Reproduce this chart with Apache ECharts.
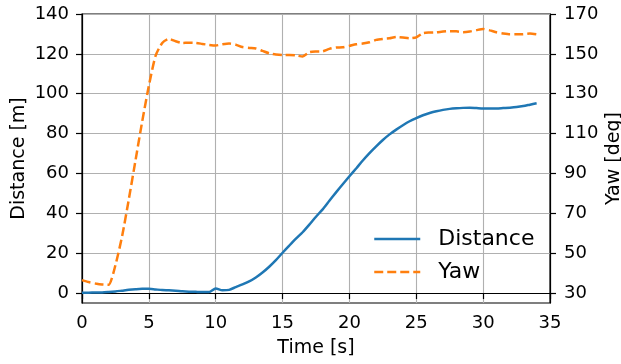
<!DOCTYPE html>
<html>
<head>
<meta charset="utf-8">
<script src="https://cdn.jsdelivr.net/npm/echarts@6/dist/echarts.min.js"></script>
<style>
  html, body { margin: 0; padding: 0; background: #fff; }
  #chart { width: 621px; height: 364px; }
</style>
</head>
<body>
<div id="chart"></div>
<script>
// time axis [s], sampled every 0.5 s
const time = [
  0, 0.5, 1, 1.5, 2, 2.5, 3, 3.5, 4, 4.5, 5, 5.5, 6, 6.5, 7, 7.5, 8, 8.5, 9, 9.5,
  10, 10.5, 11, 11.5, 12, 12.5, 13, 13.5, 14, 14.5, 15, 15.5, 16, 16.5, 17, 17.5,
  18, 18.5, 19, 19.5, 20, 20.5, 21, 21.5, 22, 22.5, 23, 23.5, 24, 24.5, 25, 25.5,
  26, 26.5, 27, 27.5, 28, 28.5, 29, 29.5, 30, 30.5, 31, 31.5, 32, 32.5, 33, 33.5, 34
];

// distance [m]
const distance = [
  0.2, 0.2, 0.3, 0.3, 0.5, 0.8, 1.2, 1.6, 1.9, 2.1, 2.1, 1.8, 1.5, 1.4, 1.2, 0.9, 0.7, 0.6, 0.5, 0.5,
  2.3, 1.4, 1.6, 3.0, 4.3, 5.8, 7.8, 10.3, 13.2, 16.5, 20.2, 23.8, 27.3, 30.5, 34.3, 38.3,
  42.0, 46.3, 50.5, 54.6, 58.6, 62.5, 66.5, 70.2, 73.6, 76.8, 79.6, 82.0, 84.2, 86.2, 87.8, 89.2,
  90.3, 91.2, 91.9, 92.4, 92.7, 92.9, 93.0, 92.8, 92.6, 92.6, 92.6, 92.8, 93.0, 93.3, 93.8, 94.5, 95.2
];

// yaw [deg]
const yaw = [
  36.5, 35.5, 34.8, 34.3, 34.2, 44, 58.5, 77, 96.5, 116, 134, 149, 155.5, 157.5, 156.3, 155.5, 155.6, 155.5, 155, 154.5,
  154.2, 154.8, 155.2, 154.6, 153.4, 153, 152.7, 151.5, 150.3, 149.7, 149.4, 149.4, 149.2, 148.7, 150.8, 151.2,
  151.3, 152.5, 153.2, 153.3, 154, 154.8, 155.2, 155.8, 157, 157.5, 157.8, 158.5, 158.2, 157.8, 158.3, 160.4,
  160.7, 160.8, 161.2, 161.4, 161.3, 160.9, 161.2, 161.9, 162.5, 161.8, 160.8, 160.2, 159.8, 159.8, 159.9, 160.2, 159.8
];

// tick values
const distanceTicks = [0, 20, 40, 60, 80, 100, 120, 140];
const yawTicks = [30, 50, 70, 90, 110, 130, 150, 170];

const FONT = "DejaVu Sans";
const TICK_SIZE = 18;

const chart = echarts.init(document.getElementById("chart"), null, { renderer: "canvas" });

const pairs = (ys) => time.map((t, i) => [t, ys[i]]);

chart.setOption({
  animation: false,
  textStyle: { fontFamily: FONT, color: "#000" },
  grid: {
    left: 82, right: 71, top: 14, bottom: 61,
    outerBoundsMode: "none",
    containLabel: false,
    show: true, borderColor: "#000", borderWidth: 1.2, backgroundColor: "transparent"
  },
  legend: {
    orient: "vertical",
    left: 368,
    top: 223,
    itemWidth: 46,
    itemHeight: 14,
    itemGap: 11,
    // hide the symbol ECharts puts on line legend icons, keep the line itself
    itemStyle: { color: "rgba(0,0,0,0)", borderWidth: 0 },
    lineStyle: { width: 2.5 },
    textStyle: { fontFamily: FONT, fontSize: 22, color: "#000", padding: [0, 0, 0, 13] },
    data: ["Distance", "Yaw"]
  },
  xAxis: {
    type: "value",
    min: 0, max: 35, interval: 5,
    name: "Time [s]",
    nameLocation: "middle",
    nameGap: 36,
    nameMoveOverlap: false,
    nameTextStyle: { fontFamily: FONT, fontSize: 19, color: "#000" },
    axisLine: { show: true, lineStyle: { color: "#000", width: 1.2 } },
    axisTick: { show: true, length: 6, lineStyle: { color: "#000", width: 1.2 } },
    axisLabel: { fontFamily: FONT, fontSize: TICK_SIZE, color: "#000", margin: 11 },
    splitLine: { show: true, lineStyle: { color: "#b0b0b0", width: 1.1 } }
  },
  yAxis: [
    {
      type: "value",
      min: -5, max: 140,
      name: "Distance [m]",
      nameLocation: "middle",
      nameGap: 53,
      nameMoveOverlap: false,
      nameTextStyle: { fontFamily: FONT, fontSize: 19, color: "#000" },
      axisLine: { show: true, lineStyle: { color: "#000", width: 1.2 } },
      axisTick: { show: true, length: 6, customValues: distanceTicks, lineStyle: { color: "#000", width: 1.2 } },
      axisLabel: { fontFamily: FONT, fontSize: TICK_SIZE, color: "#000", margin: 13, customValues: distanceTicks },
      splitLine: { show: true, lineStyle: { color: "#b0b0b0", width: 1.1 } }
    },
    {
      type: "value",
      position: "right",
      min: 25, max: 170,
      name: "Yaw [deg]",
      nameLocation: "middle",
      nameGap: 55,
      nameMoveOverlap: false,
      nameTextStyle: { fontFamily: FONT, fontSize: 19, color: "#000" },
      axisLine: { show: true, lineStyle: { color: "#000", width: 1.2 } },
      axisTick: { show: true, length: 6, customValues: yawTicks, lineStyle: { color: "#000", width: 1.2 } },
      axisLabel: { fontFamily: FONT, fontSize: TICK_SIZE, color: "#000", margin: 14, customValues: yawTicks },
      splitLine: { show: false }
    }
  ],
  series: [
    {
      name: "Distance",
      type: "line",
      yAxisIndex: 0,
      symbol: "none",
      smooth: 0.25,
      lineStyle: { color: "#1f77b4", width: 2.5 },
      itemStyle: { color: "#1f77b4" },
      data: pairs(distance)
    },
    {
      name: "Yaw",
      type: "line",
      yAxisIndex: 1,
      symbol: "none",
      smooth: 0.2,
      lineStyle: { color: "#ff7f0e", width: 2.5, type: [9, 4] },
      itemStyle: { color: "#ff7f0e" },
      data: pairs(yaw)
    }
  ]
});
</script>
</body>
</html>
